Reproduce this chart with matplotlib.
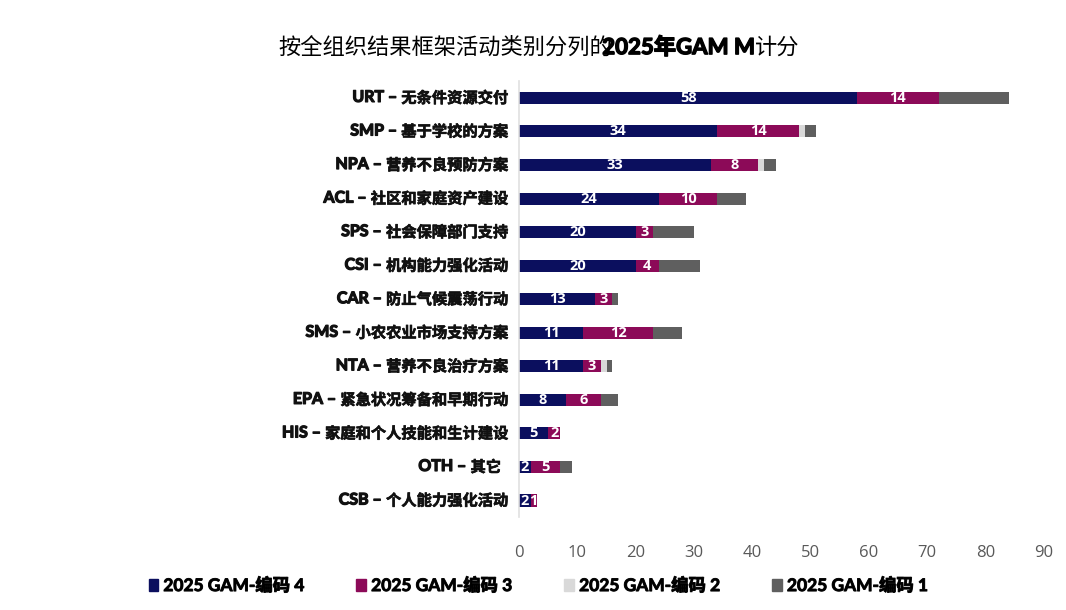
import numpy as np
import matplotlib.pyplot as plt
import matplotlib.patheffects as pe
from matplotlib.patches import Patch

plt.rcParams['font.family'] = ['Open Sans', 'Noto Sans CJK SC', 'DejaVu Sans']

codes = ['URT', 'SMP', 'NPA', 'ACL', 'SPS', 'CSI', 'CAR', 'SMS', 'NTA', 'EPA', 'HIS', 'OTH', 'CSB']
names = ['无条件资源交付', '基于学校的方案', '营养不良预防方案', '社区和家庭资产建设',
         '社会保障部门支持', '机构能力强化活动', '防止气候震荡行动', '小农农业市场支持方案',
         '营养不良治疗方案', '紧急状况筹备和早期行动', '家庭和个人技能和生计建设', '其它  ',
         '个人能力强化活动']
code4 = [58, 34, 33, 24, 20, 20, 13, 11, 11, 8, 5, 2, 2]
code3 = [14, 14, 8, 10, 3, 4, 3, 12, 3, 6, 2, 5, 1]
code2 = [0, 1, 1, 0, 0, 0, 0, 0, 1, 0, 0, 0, 0]
code1 = [12, 2, 2, 5, 7, 7, 1, 5, 1, 3, 0, 2, 0]
series_names = ['2025 GAM-编码 4', '2025 GAM-编码 3', '2025 GAM-编码 2', '2025 GAM-编码 1']
colors = ['#0b0f5e', '#8c0a58', '#d9d9d9', '#5f5f5f']
xticks = [0, 10, 20, 30, 40, 50, 60, 70, 80, 90]

# fake heavier weights with a thin outline
heavy = [pe.withStroke(linewidth=0.9, foreground='#111111')]
semi = [pe.withStroke(linewidth=0.45, foreground='#111111')]

fig = plt.figure(figsize=(10.66, 6.10), dpi=100)
ax = fig.add_axes([0.487, 0.152, 0.492, 0.715])

y = np.arange(len(codes))
left = np.zeros(len(codes))
for vals, col, lab in zip([code4, code3, code2, code1], colors, series_names):
    vals = np.array(vals, dtype=float)
    bars = ax.barh(y, vals, left=left, height=0.36, color=col, label=lab)
    if col in colors[:2]:
        for b, v in zip(bars, vals):
            if v > 0:
                ax.text(b.get_x() + b.get_width() / 2, b.get_y() + b.get_height() / 2,
                        f'{int(v)}', ha='center', va='center', color='white',
                        fontsize=10.5, fontweight='bold')
    left += vals

ax.set_xlim(0, 90)
ax.set_ylim(len(codes) - 0.5, -0.5)
ax.set_xticks(xticks)
ax.set_xticklabels([str(t) for t in xticks], color='#595959', fontsize=12)
ax.tick_params(axis='x', length=0, pad=20)
ax.set_yticks([])
for s in ['top', 'right', 'bottom']:
    ax.spines[s].set_visible(False)
ax.spines['left'].set_color('#e0e0e0')
ax.spines['left'].set_linewidth(1.2)

# category labels: heavy code + bold Chinese name
cjk = ['Noto Sans CJK SC', 'DejaVu Sans']
for i, (c, n) in enumerate(zip(codes, names)):
    t = ax.annotate(n, xy=(0, i), xycoords=('axes fraction', 'data'),
                    xytext=(-8, 0), textcoords='offset points',
                    ha='right', va='center', fontsize=11, fontweight='bold',
                    family=cjk, color='#111111', path_effects=semi)
    ax.annotate(c + ' –', xy=(0, 0.5), xycoords=t, xytext=(-3, 0),
                textcoords='offset points', ha='right', va='center',
                fontsize=11.5, fontweight='bold', family=['Lato', 'DejaVu Sans'],
                color='#111111', path_effects=heavy)

# title, middle part in bold
t1 = fig.text(0.261, 0.922, '按全组织结果框架活动类别分列的', fontsize=16,
              family=cjk, ha='left', va='center')
t2 = fig.add_artist(plt.Annotation('2025年GAM M', xy=(1, 0.5), xycoords=t1,
                                   xytext=(-7, 0), textcoords='offset points',
                                   ha='left', va='center', fontsize=16, fontweight='bold',
                                   family=['Lato', 'Noto Sans CJK SC'],
                                   path_effects=[pe.withStroke(linewidth=1.0, foreground='black')]))
fig.add_artist(plt.Annotation('计分', xy=(1, 0.5), xycoords=t2, ha='left', va='center',
                              fontsize=16, family=cjk))

handles = [Patch(color=c) for c in colors]
leg = fig.legend(handles, series_names, loc='center', bbox_to_anchor=(0.505, 0.04), ncol=4,
                 frameon=False, handlelength=0.55, handleheight=0.75, handletextpad=0.3,
                 columnspacing=3.0, prop={'family': ['Lato', 'Noto Sans CJK SC'],
                                          'weight': 'bold', 'size': 12.5})
for txt in leg.get_texts():
    txt.set_path_effects([pe.withStroke(linewidth=0.7, foreground='#111111')])

fig.savefig('out.png', dpi=100)
